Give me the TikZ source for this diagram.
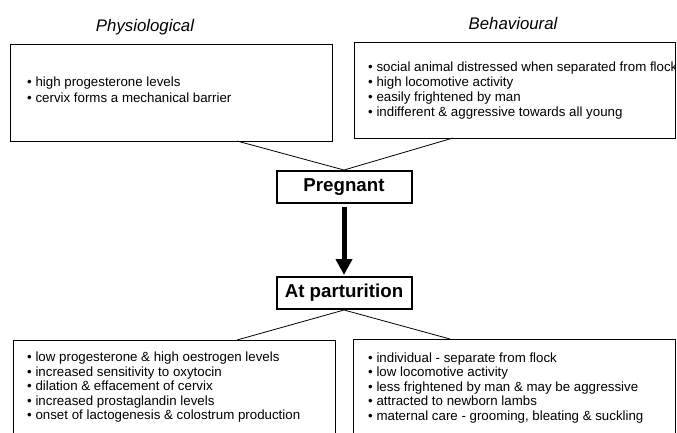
\documentclass[tikz,border=0pt]{standalone}
\usepackage{fontspec}
\setmainfont{Liberation Sans}
\usetikzlibrary{arrows.meta}
\begin{document}
\begin{tikzpicture}[x=1pt,y=-1pt,
  box/.style={draw=black,line width=0.8pt,rectangle,inner sep=0pt,anchor=north west},
  statebox/.style={draw=black,line width=2pt,rectangle,inner sep=0pt,minimum width=135pt,minimum height=32pt,font=\fontsize{18.7}{20}\selectfont\bfseries},
  head/.style={font=\fontsize{16.8}{18}\selectfont\itshape},
  list/.style={inner sep=0pt,anchor=base west,align=left},
  link/.style={draw=black,line width=0.8pt}]
\useasboundingbox (0,0) rectangle (677,432);
\clip (0,0) rectangle (677,432);
\fill[white] (0,0) rectangle (677,432);

\node[head] (hphys) at (145,27) {Physiological};
\node[head] (hbeh) at (513,23) {Behavioural};

\node[box,minimum width=322pt,minimum height=97pt] (tl) at (10,44) {};
\node[box,minimum width=321pt,minimum height=96pt] (tr) at (354,42) {};
\node[box,minimum width=322pt,minimum height=120pt] (bl) at (13,340) {};
\node[box,minimum width=322pt,minimum height=120pt] (br) at (353,339) {};

\node[list,font=\fontsize{13.3}{16}\selectfont] (tltext) at (27,102.5)
  {• high progesterone levels\\• cervix forms a mechanical barrier};
\begin{scope}
\clip (354,42) rectangle (675,138);
\node[list,font=\fontsize{13.3}{15}\selectfont] (trtext) at (368,116)
  {• social animal distressed when separated from flock\\• high locomotive activity\\• easily frightened by man\\• indifferent \& aggressive towards all young};
\end{scope}
\node[list,font=\fontsize{13.3}{14.5}\selectfont] (bltext) at (27,419.5)
  {• low progesterone \& high oestrogen levels\\• increased sensitivity to oxytocin\\• dilation \& effacement of cervix\\• increased prostaglandin levels\\• onset of lactogenesis \& colostrum production};
\node[list,font=\fontsize{13.3}{14.5}\selectfont] (brtext) at (368,420)
  {• individual - separate from flock\\• low locomotive activity\\• less frightened by man \& may be aggressive\\• attracted to newborn lambs\\• maternal care - grooming, bleating \& suckling};

\node[statebox] (preg) at (344,187) {Pregnant};
\node[statebox] (part) at (344,293) {At parturition};

\coordinate (tlfoot) at (237,141);
\coordinate (trfoot) at (453,138);
\coordinate (blfoot) at (237,340);
\coordinate (brfoot) at (450,339);

\draw[link] (tlfoot) -- (preg.north) -- (trfoot);
\draw[link] (blfoot) -- (part.south) -- (brfoot);

\draw[line width=5pt,-{Triangle[length=16pt,width=16pt]},shorten <=3pt,shorten >=1pt] (preg.south) -- (part.north);
\end{tikzpicture}
\end{document}
